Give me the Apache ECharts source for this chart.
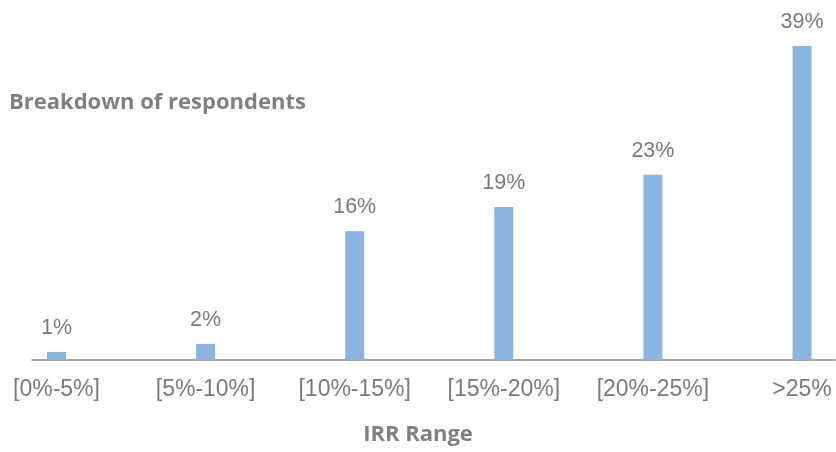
<!DOCTYPE html>
<html>
<head>
<meta charset="utf-8">
<script src="https://cdn.jsdelivr.net/npm/echarts@6/dist/echarts.min.js"></script>
<style>
  html, body { margin: 0; padding: 0; background: #ffffff; }
  #chart { width: 836px; height: 452px; }
</style>
</head>
<body>
<div id="chart"></div>
<script>
// 分类 / 数值
const categories = ['[0%-5%]', '[5%-10%]', '[10%-15%]', '[15%-20%]', '[20%-25%]', '>25%']
const shares = [1, 2, 16, 19, 23, 39]

const chartTitle = 'Breakdown of respondents'
const axisTitle = 'IRR Range'

const myChart = echarts.init(document.getElementById('chart'))

const options = {
  animation: false,
  title: [
    {
      text: chartTitle,
      left: 9,
      top: 92,
      padding: 0,
      textStyle: { color: '#808080', fontSize: 22, fontWeight: 'bold', fontFamily: 'Open Sans' }
    },
    {
      text: axisTitle,
      left: 'center',
      top: 424,
      padding: 0,
      textStyle: { color: '#808080', fontSize: 22, fontWeight: 'bold', fontFamily: 'Open Sans' }
    }
  ],
  grid: [
    { left: 56.5, right: 34, top: 38, bottom: 92 }, // 柱子
    { left: 32, right: 1, top: 38, bottom: 92 } // 只画x轴线
  ],
  xAxis: [
    {
      type: 'category',
      gridIndex: 0,
      data: categories,
      boundaryGap: false,
      axisLine: { show: false },
      axisTick: { show: false },
      axisLabel: {
        color: '#7a7a7a',
        fontSize: 23,
        fontFamily: 'Liberation Sans',
        margin: 18,
        interval: 0
      }
    },
    {
      type: 'value',
      gridIndex: 1,
      min: 0,
      max: 1,
      axisLine: { show: true, lineStyle: { color: '#888888', width: 1.5 } },
      axisTick: { show: false },
      axisLabel: { show: false },
      splitLine: { show: false }
    }
  ],
  yAxis: [
    { type: 'value', gridIndex: 0, min: 0, max: 40, show: false },
    { type: 'value', gridIndex: 1, min: 0, max: 1, show: false }
  ],
  series: [
    {
      type: 'bar',
      xAxisIndex: 0,
      yAxisIndex: 0,
      data: shares,
      barWidth: 19,
      itemStyle: { color: '#88b4df' },
      label: {
        show: true,
        position: 'top',
        distance: 13,
        formatter: '{c}%',
        color: '#7a7a7a',
        fontSize: 21.5,
        fontFamily: 'Liberation Sans'
      }
    }
  ]
}

myChart.setOption(options)
</script>
</body>
</html>
